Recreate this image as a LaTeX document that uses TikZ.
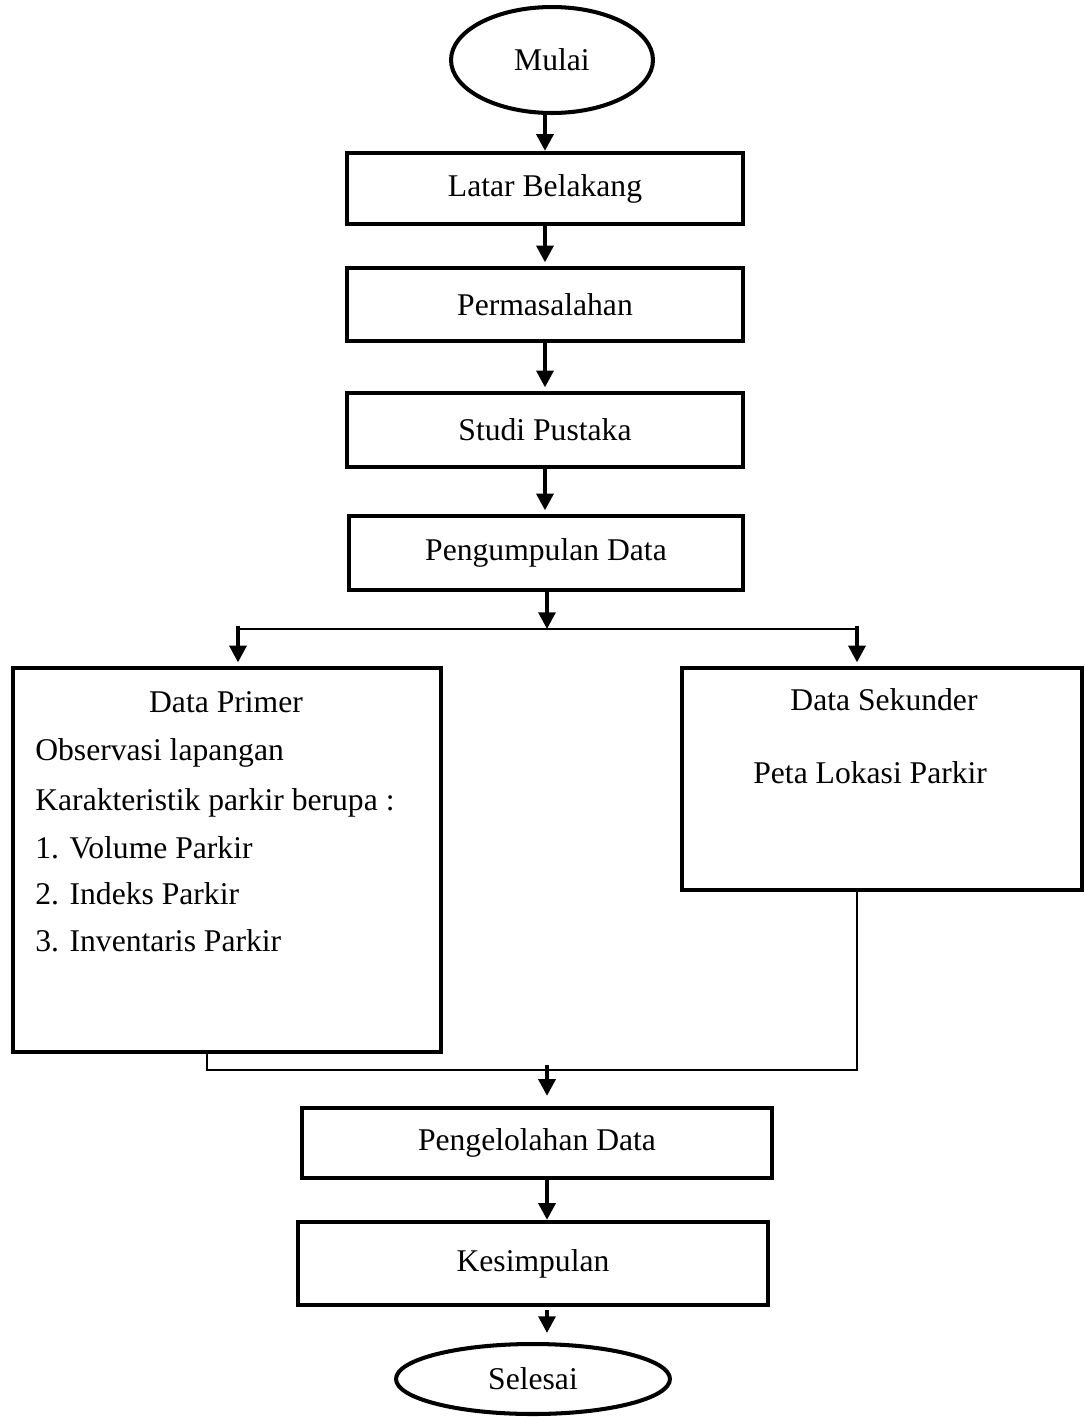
\documentclass[tikz,border=0pt]{standalone}
\usepackage{fontspec}
\setmainfont{Liberation Serif}
\usetikzlibrary{arrows.meta,shapes.geometric}

\begin{document}
\begin{tikzpicture}[x=0.02cm,y=-0.02cm,
  every node/.style={font=\fontsize{18}{22}\selectfont},
  procbox/.style={rectangle,draw,line width=2.4pt,inner sep=0pt},
  termnode/.style={ellipse,draw,line width=2.3pt,inner sep=0pt},
  flow/.style={-{Triangle[length=9.5pt,width=9.5pt]},line width=2.2pt},
  joint/.style={line width=0.7pt},
  itemtext/.style={anchor=base west,inner sep=0pt}]
\useasboundingbox (0,0) rectangle (1085,1417);
% main column
\node[termnode,minimum width=4.04cm,minimum height=2.12cm] (mulai) at (552,60) {Mulai};
\node[procbox,minimum width=7.92cm,minimum height=1.42cm] (latar) at (545,188.5) {Latar Belakang};
\node[procbox,minimum width=7.92cm,minimum height=1.46cm] (masalah) at (545,304.5) {Permasalahan};
\node[procbox,minimum width=7.92cm,minimum height=1.48cm] (pustaka) at (545,430) {Studi Pustaka};
\node[procbox,minimum width=7.88cm,minimum height=1.48cm] (kumpul) at (546,553) {Pengumpulan Data};
\draw[flow] (mulai.south -| latar.north) -- (latar.north);
\draw[flow,shorten >=2pt] (latar.south) -- (masalah.north);
\draw[flow,shorten >=2pt] (masalah.south) -- (pustaka.north);
\draw[flow,shorten >=2pt] (pustaka.south) -- (pustaka.south |- kumpul.north);
% split
\coordinate (split) at (547,629);
\coordinate (splitL) at (238,629);
\coordinate (splitR) at (857,629);
\node[procbox,minimum width=8.56cm,minimum height=7.68cm] (primer) at (227,860) {};
\node[procbox,minimum width=8.0cm,minimum height=4.44cm] (sekunder) at (882,779) {};
\draw[joint] (splitL) -- (splitR);
\draw[flow] (kumpul.south -| split) -- (split);
\draw[flow,shorten >=2pt] ([yshift=0.06cm]splitL) -- (splitL |- primer.north);
\draw[flow,shorten >=2pt] ([yshift=0.06cm]splitR) -- (splitR |- sekunder.north);
% isi data primer
\node[inner sep=0pt,anchor=base] (judulprimer) at (226,712) {Data Primer};
\node[itemtext] (observasi) at (35,760) {Observasi lapangan};
\node[itemtext] (karakter) at (35,810) {Karakteristik parkir berupa :};
\node[itemtext] (volume) at (35,858) {1. Volume Parkir};
\node[itemtext] (indeks) at (35,904) {2. Indeks Parkir};
\node[itemtext] (inventaris) at (35,951) {3. Inventaris Parkir};
% isi data sekunder
\node[inner sep=0pt,anchor=base] (judulsekunder) at (884,710) {Data Sekunder};
\node[itemtext] (peta) at (753,783) {Peta Lokasi Parkir};
% merge
\coordinate (mergeL) at (207,1070);
\coordinate (mergeR) at (857,1070);
\coordinate (merge) at (547,1070);
\node[procbox,minimum width=9.4cm,minimum height=1.4cm] (olah) at (537,1143) {Pengelolahan Data};
\node[procbox,minimum width=9.4cm,minimum height=1.66cm] (simpul) at (533,1263.5) {Kesimpulan};
\node[termnode,minimum width=5.48cm,minimum height=1.4cm] (selesai) at (533,1379) {Selesai};
\draw[joint] (primer.south -| mergeL) -- (mergeL) -- (mergeR) -- (sekunder.south -| mergeR);
\draw[flow,shorten >=0.2cm] ([yshift=0.1cm]merge) -- (merge |- olah.north);
\draw[flow] (olah.south -| merge) -- (merge |- simpul.north);
\draw[flow,shorten >=0.18cm] ([yshift=-0.06cm]simpul.south -| merge) -- (merge |- selesai.north);
\end{tikzpicture}
\end{document}
